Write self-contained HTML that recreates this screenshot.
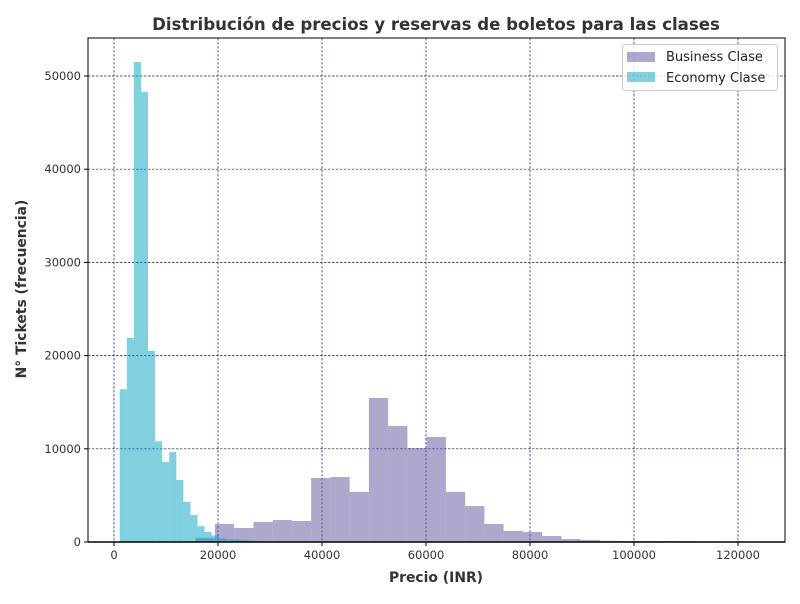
<!DOCTYPE html>
<html><head><meta charset="utf-8"><style>
body{margin:0;background:#fff;font-family:"DejaVu Sans","Liberation Sans",sans-serif;}
</style></head><body>
<svg width="800" height="600" xmlns="http://www.w3.org/2000/svg">
<rect x="0" y="0" width="800" height="600" fill="#fff"/>
<text x="436" y="30" text-anchor="middle" font-size="16.6" font-weight="bold" fill="#333">Distribución de precios y reservas de boletos para las clases</text>
<g id="grid"></g>
<g id="bars"></g>
<g id="axes"></g>
<text x="436" y="582" text-anchor="middle" font-size="13.9" font-weight="bold" fill="#333">Precio (INR)</text>
<text transform="translate(26,289) rotate(-90)" text-anchor="middle" font-size="13.9" font-weight="bold" fill="#333">N° Tickets (frecuencia)</text>
<g>
<rect x="622.5" y="44.5" width="155" height="46" rx="3" fill="#fff" fill-opacity="0.8" stroke="#ccc"/>
<rect x="627" y="52" width="28" height="10" fill="rgb(97,81,153)" fill-opacity="0.5"/>
<text x="666" y="61" font-size="13" fill="#222">Business Clase</text>
<rect x="627" y="72" width="28" height="10" fill="rgb(2,162,194)" fill-opacity="0.5"/>
<text x="666" y="82" font-size="13" fill="#222">Economy Clase</text>
</g>
</svg>
<script>
const xTicks=[0,20000,40000,60000,80000,100000,120000];
const yTicks=[0,10000,20000,30000,40000,50000];
const businessStart=12000;
const businessBinWidth=3702;
const businessCounts=[50,450,1930,1500,2150,2360,2250,6870,6970,5370,15450,12450,10090,11270,5370,3860,1930,1180,1070,640,320,210,130,110,100,90,80,60,10,5];
const economyStart=1105;
const economyBinWidth=1360;
const economyCounts=[16400,21900,51500,48300,20500,10800,8600,9650,6650,4300,2900,1700,1070,700,400,300,250,200,150,100,80,60,50,40,30,20,15,10,8,5];

const L=88,R=785,T=38,B=542;
const X=v=>114+v*(738-114)/120000;
const Y=v=>542-v*(542-76)/50000;
const NS="http://www.w3.org/2000/svg";
function mk(tag,attrs,parent){const e=document.createElementNS(NS,tag);for(const k in attrs)e.setAttribute(k,attrs[k]);parent.appendChild(e);return e;}
const grid=document.getElementById('grid'),bars=document.getElementById('bars'),axes=document.getElementById('axes');
xTicks.forEach(t=>{
 const l=mk('line',{x1:X(t),x2:X(t),y1:T,y2:B,stroke:'#1a1a5a','stroke-width':0.7,'stroke-dasharray':'2.5,1.5'},grid);
 
 
 mk('line',{x1:X(t),x2:X(t),y1:B,y2:B+4,stroke:'#000'},axes);
 const tx=mk('text',{x:X(t),y:B+17,'text-anchor':'middle','font-size':'11.5',fill:'#333'},axes);
 tx.textContent=t;
 
 
});
yTicks.forEach(t=>{
 if(t>0){const l=mk('line',{x1:L,x2:R,y1:Y(t),y2:Y(t),stroke:'#1a1a5a','stroke-width':0.7,'stroke-dasharray':'2.5,1.5'},grid);
 
 }
 mk('line',{x1:L-4,x2:L,y1:Y(t),y2:Y(t),stroke:'#000'},axes);
 const tx=mk('text',{x:L-7,y:Y(t)+4,'text-anchor':'end','font-size':'11.5',fill:'#333'},axes);
 tx.textContent=t;
 
 
});
businessCounts.forEach((c,i)=>{
 const x0=X(businessStart+i*businessBinWidth),x1=X(businessStart+(i+1)*businessBinWidth);
 const r=mk('rect',{x:x0,y:Y(c),width:x1-x0,height:Y(0)-Y(c),fill:'rgb(97,81,153)','fill-opacity':0.5},bars);
 
 
});
economyCounts.forEach((c,i)=>{
 const x0=X(economyStart+i*economyBinWidth),x1=X(economyStart+(i+1)*economyBinWidth);
 const r=mk('rect',{x:x0,y:Y(c),width:x1-x0,height:Y(0)-Y(c),fill:'rgb(2,162,194)','fill-opacity':0.5},bars);
 
 
});
mk('rect',{x:L,y:T,width:R-L,height:B-T,fill:'none',stroke:'#000','stroke-width':1},axes);
mk('line',{x1:L,x2:R,y1:B,y2:B,stroke:'#000','stroke-width':1.5},axes);
</script>
</body></html>
